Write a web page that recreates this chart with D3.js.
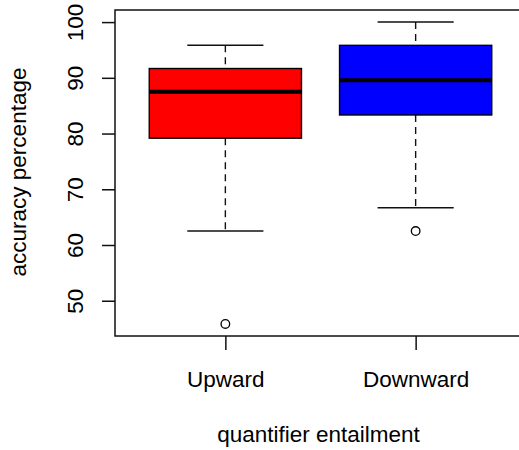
<!DOCTYPE html>
<html>
<head>
<meta charset="utf-8">
<script src="https://cdn.jsdelivr.net/npm/d3@7"></script>
<style>
  body { margin: 0; background: #fff; }
  text { font-family: "Liberation Sans", Arial, sans-serif; fill: #000; }
</style>
</head>
<body>
<div></div>
<script>
const width = 519;
const height = 450;

// data
const groups = ["Upward", "Downward"];
const lowerWhisker = [62.5, 66.67];
const q1 = [79.17, 83.33];
const median = [87.5, 89.58];
const q3 = [91.67, 95.83];
const upperWhisker = [95.83, 100];
const outliers = [[45.83], [62.5]];
const yTicks = [50, 60, 70, 80, 90, 100];

const plot = { left: 115, right: 526, top: 10, bottom: 336 };
const fontSize = "22.5px";

const svg = d3
  .select("div")
  .append("svg")
  .attr("width", width)
  .attr("height", height);

// R style: index 1..n, padded 4%
const x = d3.scaleLinear().domain([0.42, 2.58]).range([plot.left, plot.right]);
const y = d3.scaleLinear().domain([43.67, 102.17]).range([plot.bottom, plot.top]);

const boxHalf = 0.4;
const capHalf = 0.2;
const fills = ["#ff0000", "#0000ff"];

const g = svg.selectAll("g.box")
  .data(groups)
  .enter()
  .append("g")
  .attr("class", "box");

// whiskers (dashed)
g.append("line")
  .attr("x1", (d, i) => x(i + 1)).attr("x2", (d, i) => x(i + 1))
  .attr("y1", (d, i) => y(upperWhisker[i])).attr("y2", (d, i) => y(q3[i]))
  .attr("stroke", "#111").attr("stroke-width", 1.4).attr("stroke-dasharray", "7,5");
g.append("line")
  .attr("x1", (d, i) => x(i + 1)).attr("x2", (d, i) => x(i + 1))
  .attr("y1", (d, i) => y(q1[i])).attr("y2", (d, i) => y(lowerWhisker[i]))
  .attr("stroke", "#111").attr("stroke-width", 1.4).attr("stroke-dasharray", "7,5");

// caps
[upperWhisker, lowerWhisker].forEach((arr) => {
  g.append("line")
    .attr("x1", (d, i) => x(i + 1 - capHalf)).attr("x2", (d, i) => x(i + 1 + capHalf))
    .attr("y1", (d, i) => y(arr[i])).attr("y2", (d, i) => y(arr[i]))
    .attr("stroke", "#111").attr("stroke-width", 1.5);
});

// boxes
g.append("rect")
  .attr("x", (d, i) => x(i + 1 - boxHalf))
  .attr("width", (d, i) => x(i + 1 + boxHalf) - x(i + 1 - boxHalf))
  .attr("y", (d, i) => y(q3[i]))
  .attr("height", (d, i) => y(q1[i]) - y(q3[i]))
  .attr("fill", (d, i) => fills[i])
  .attr("stroke", "#000").attr("stroke-width", 1.4);

// medians
g.append("line")
  .attr("x1", (d, i) => x(i + 1 - boxHalf)).attr("x2", (d, i) => x(i + 1 + boxHalf))
  .attr("y1", (d, i) => y(median[i])).attr("y2", (d, i) => y(median[i]))
  .attr("stroke", "#000").attr("stroke-width", 4);

// outliers
g.each(function (d, i) {
  d3.select(this).selectAll("circle")
    .data(outliers[i])
    .enter()
    .append("circle")
    .attr("cx", x(i + 1))
    .attr("cy", (v) => y(v))
    .attr("r", 4.3)
    .attr("fill", "none")
    .attr("stroke", "#000")
    .attr("stroke-width", 1.3);
});

// frame
svg.append("rect")
  .attr("x", plot.left).attr("y", plot.top)
  .attr("width", plot.right - plot.left).attr("height", plot.bottom - plot.top)
  .attr("fill", "none").attr("stroke", "#111").attr("stroke-width", 1.5);

// y axis
const yAxis = svg.append("g")
  .attr("transform", "translate(" + plot.left + ",0)")
  .call(d3.axisLeft(y).tickValues(yTicks).tickSize(13).tickPadding(0).tickFormat(d3.format("d")));
yAxis.select(".domain").remove();
yAxis.selectAll(".tick line").attr("stroke", "#111").attr("stroke-width", 1.5);
yAxis.selectAll(".tick text")
  .attr("x", 0).attr("dy", 0)
  .attr("transform", "translate(-32,0) rotate(-90)")
  .attr("text-anchor", "middle")
  .style("font-size", fontSize);

// x axis
const xAxis = svg.append("g")
  .attr("transform", "translate(0," + plot.bottom + ")")
  .call(d3.axisBottom(x).tickValues([1, 2]).tickSize(14).tickPadding(0).tickFormat((d) => groups[d - 1]));
xAxis.select(".domain").remove();
xAxis.selectAll(".tick line").attr("stroke", "#111").attr("stroke-width", 1.5);
xAxis.selectAll(".tick text")
  .attr("y", 51).attr("dy", 0)
  .style("font-size", fontSize);

// titles
svg.append("text")
  .attr("x", (plot.left + plot.right) / 2 - 2)
  .attr("y", 442)
  .attr("text-anchor", "middle")
  .style("font-size", fontSize)
  .text("quantifier entailment");

svg.append("text")
  .attr("transform", "translate(26," + ((plot.top + plot.bottom) / 2 - 1) + ") rotate(-90)")
  .attr("text-anchor", "middle")
  .style("font-size", fontSize)
  .text("accuracy percentage");
</script>
</body>
</html>
